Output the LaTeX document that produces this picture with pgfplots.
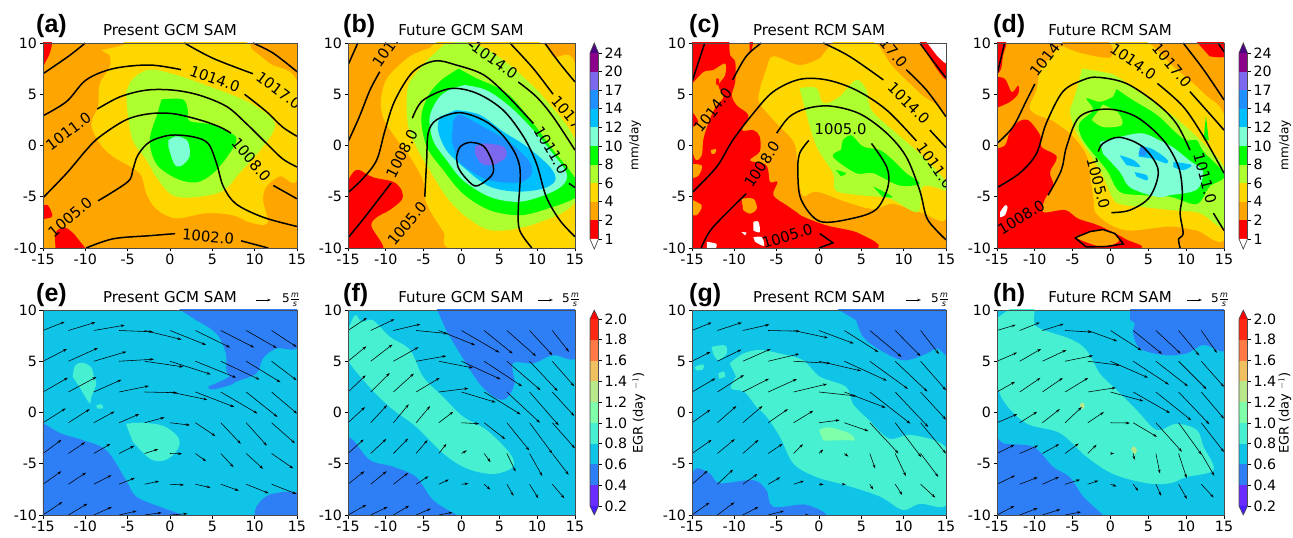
\documentclass[border=0pt]{standalone}
\usepackage{fontspec}
\setmainfont{DejaVu Sans}
\newfontfamily\panelfont{Liberation Sans}
\usepackage{pgfplots}
\usepackage{pgfplotstable}
\pgfplotsset{compat=1.18}
\usetikzlibrary{arrows.meta}
\definecolor{cRed}{HTML}{FF0000}
\definecolor{cOra}{HTML}{FFA500}
\definecolor{cGol}{HTML}{FFD700}
\definecolor{cGy}{HTML}{ADFF2F}
\definecolor{cLim}{HTML}{00FF00}
\definecolor{cAq}{HTML}{7FFFD4}
\definecolor{cSky}{HTML}{00BFFF}
\definecolor{cDod}{HTML}{1E90FF}
\definecolor{cSla}{HTML}{7B68EE}
\definecolor{cMag}{HTML}{8B008B}
\definecolor{cInd}{HTML}{4B0082}
\definecolor{e1}{HTML}{6A2CFF}
\definecolor{e2}{HTML}{2E7EF5}
\definecolor{e3}{HTML}{10C4E8}
\definecolor{e4}{HTML}{46F0D0}
\definecolor{e5}{HTML}{80FFAA}
\definecolor{e6}{HTML}{B8E88A}
\definecolor{e7}{HTML}{F0C060}
\definecolor{e8}{HTML}{FF7A45}
\definecolor{e9}{HTML}{FF2A14}
\newcommand\tk{\fontsize{14.2}{16}\selectfont}
\newcommand\lb{\fontsize{14.8}{16}\selectfont}
\newcommand\R[2]{\addplot[fill=#1,draw=none,smooth,tension=.55] coordinates {#2} -- cycle;}
\newcommand\C[1]{\addplot[black,line width=1.5pt,smooth,tension=.55] coordinates {#1};}
\newcommand\Lab[4]{\begin{scope}\clip (axis cs:-15,-10) rectangle (axis cs:15,10);\node[rotate=#4,font=\lb,inner sep=0pt] at (axis cs:#1,#2) {#3};\end{scope}}
\pgfplotsset{panel/.style={scale only axis,anchor=south west,height=205pt,
  xmin=-15,xmax=15,ymin=-10,ymax=10,axis on top,
  xtick={-15,-10,-5,0,5,10,15},xticklabels={-15,-10,-5,0,5,10,15},
  ytick={-10,-5,0,5,10},yticklabels={-10,-5,0,5,10},
  xtick pos=bottom,ytick pos=left,tick align=outside,major tick length=3.5pt,
  tick style={black,line width=.7pt},axis line style={line width=.7pt,black!70},
  tick label style={font=\tk},xticklabel style={yshift=1pt},yticklabel style={xshift=1pt}},
 qv/.style={quiver={u=\thisrow{u},v=\thisrow{v}},-{Stealth[length=4pt,width=2.6pt]},line width=.55pt,black},
 cbar/.style={scale only axis,anchor=south west,width=8.5pt,xmin=0,xmax=1,ymin=0,clip=false,
  axis x line=none,axis y line*=right,tick align=outside,major tick length=3.5pt,
  tick style={black,line width=.7pt},axis line style={draw=none},
  tick label style={font=\tk},yticklabel style={xshift=-1pt},axis on top}}
\newcommand\B[2]{\addplot[fill=#2,draw=none] coordinates {(0,#1) (1,#1) (1,#1+1) (0,#1+1)} -- cycle;}
\pgfplotstableread{
x y u v
-15 8 2.56 .85
-12 8 3.2 .8
-9 8 3.66 .52
-6 8 4.0 -.13
-3 8 4.37 -.88
0 8 4.25 -1.4
3 8 4.1 -1.66
6 8 3.94 -1.66
9 8 3.6 -1.7
12 8 2.95 -1.6
-15 5 2.83 1.2
-12 5 3.5 1.3
-9 5 3.86 .94
-6 5 4.1 .2
-3 5 4.57 -.55
0 5 4.8 -1.27
3 5 4.8 -1.6
6 5 4.57 -1.79
9 5 4.05 -2.05
12 5 2.95 -1.85
-15 2 2.95 1.4
-12 2 3.3 1.46
-9 2 3.27 1.2
-6 2 3.5 .59
-3 2 3.86 -.07
0 2 4.4 -.75
3 2 4.6 -1.46
6 2 4.33 -2.1
9 2 3.7 -2.44
12 2 3.0 -2.1
-15 -1 2.68 1.4
-12 -1 2.52 1.33
-9 -1 2.44 1.1
-6 -1 2.36 .85
-3 -1 2.36 .52
0 -1 2.36 -.23
3 -1 2.36 -1.3
6 -1 2.36 -2.05
9 -1 2.44 -2.24
12 -1 2.75 -2.0
-15 -4 2.17 1.33
-12 -4 1.97 1.1
-9 -4 1.97 .94
-6 -4 1.77 .75
-3 -4 1.6 .42
0 -4 1.42 -.03
3 -4 1.26 -.75
6 -4 1.5 -1.33
9 -4 2.0 -1.5
12 -4 2.56 -1.46
-15 -7 2.17 1.27
-12 -7 2.09 1.14
-9 -7 2.09 .88
-6 -7 1.85 .62
-3 -7 1.7 .3
0 -7 1.65 -.07
3 -7 1.8 -.33
6 -7 2.13 -.62
9 -7 2.65 -.88
12 -7 2.95 -.95
-15 -10 2.28 1.27
-12 -10 2.24 1.1
-9 -10 2.13 .78
-6 -10 2.05 .39
-3 -10 2.0 .23
0 -10 2.05 .13
}\qe
\pgfplotstableread{
x y u v
-15 8 2.5 1.24
-12 8 3.13 1.1
-9 8 3.57 .62
-6 8 4.2 -.3
-3 8 4.8 -1.43
0 8 5 -2.15
3 8 3.75 -2.25
6 8 3.84 -2.5
9 8 3 -2.4
12 8 2.2 -2.08
-15 5 2.43 1.46
-12 5 2.87 1.63
-9 5 3.3 1.37
-6 5 4.0 .52
-3 5 4.5 -.65
0 5 5.16 -1.76
3 5 5 -2.44
6 5 4.45 -2.83
9 5 3.7 -2.9
12 5 2.9 -2.44
-15 2 2.34 1.63
-12 2 2.5 1.85
-9 2 2.7 1.8
-6 2 3.1 1.37
-3 2 3.9 .36
0 2 4.5 -1
3 2 4.8 -2.18
6 2 4.37 -3.0
9 2 3.84 -3.25
12 2 2.9 -2.34
-15 -1 2.25 1.53
-12 -1 2.16 1.72
-9 -1 2.03 1.8
-6 -1 1.85 1.63
-3 -1 1.9 1.07
0 -1 2.34 -.1
3 -1 2.78 -1.6
6 -1 2.96 -2.7
9 -1 3.0 -3.0
12 -1 3.0 -2.5
-15 -4 2.07 1.37
-12 -4 2.07 1.43
-9 -4 1.94 1.46
-6 -4 1.5 1.3
-3 -4 1 .94
0 -4 .7 .3
3 -4 .84 -.85
6 -4 1.15 -1.76
9 -4 1.68 -2.2
12 -4 2.16 -2.08
-15 -7 2.16 1.27
-12 -7 2.1 1.27
-9 -7 1.94 1.1
-6 -7 1.63 .78
-3 -7 1.32 .46
0 -7 .93 .07
3 -7 .8 -.52
6 -7 .88 -1.14
9 -7 1.15 -1.37
12 -7 1.6 -1.37
-15 -10 2.43 1.0
-12 -10 2.25 .8
-9 -10 2.07 .9
-6 -10 1.94 .62
-3 -10 1.8 .26
}\qf
\pgfplotstableread{
x y u v
-15 8 2.32 .78
-12 8 2.9 .78
-9 8 3.15 .58
-6 8 3.74 -.07
-3 8 4.05 -.72
0 8 4.1 -1.27
3 8 4 -2.1
6 8 3.74 -2.57
9 8 2.99 -2.5
12 8 2.17 -2.3
-15 5 2.17 .91
-12 5 2.83 1.14
-9 5 3.3 1.2
-6 5 3.66 .72
-3 5 4.37 -.2
0 5 4.96 -.94
3 5 5 -1.89
6 5 4.5 -2.7
9 5 3.8 -2.96
12 5 3 -2.83
-15 2 2.76 1.33
-12 2 3.13 1.66
-9 2 3.1 1.3
-6 2 3.4 1.27
-3 2 3.94 .78
0 2 4.4 -.39
3 2 4.87 -1.53
6 2 4.8 -3.09
9 2 3.9 -3.41
12 2 3 -2.7
-15 -1 2.17 1.27
-12 -1 2.24 1.63
-9 -1 2.32 1.63
-6 -1 2.32 1.33
-3 -1 2.32 1.17
0 -1 2.44 .26
3 -1 2.83 -.81
6 -1 3.39 -3.0
9 -1 3.07 -3.35
12 -1 3 -3.0
-15 -4 2.32 1.33
-12 -4 2.05 1.4
-9 -4 1.85 1.33
-6 -4 1.7 .94
-3 -4 1.1 .91
0 -4 .5 .39
3 -4 .47 -.3
6 -4 .63 -1.46
9 -4 1.26 -2.2
12 -4 2.09 -2.28
-15 -7 1.85 1.33
-12 -7 1.85 1.43
-9 -7 1.73 1.0
-6 -7 1.42 .68
-3 -7 1.22 .33
0 -7 .55 -.03
3 -7 .16 0
6 -7 .4 -.52
9 -7 .83 -1.04
12 -7 1.73 -1.3
-15 -10 2.05 1.2
-12 -10 2.0 1.24
-9 -10 1.85 .78
-6 -10 1.85 .39
-3 -10 1.8 0
}\qg
\pgfplotstableread{
x y u v
-15 8 2.47 .55
-12 8 2.65 .78
-9 8 2.82 .65
-6 8 3.53 -.16
-3 8 3.88 -1.04
0 8 4.1 -1.95
3 8 3.8 -2.28
6 8 3.26 -2.24
9 8 2.73 -2.44
12 8 2.07 -2.18
-15 5 2.65 .85
-12 5 2.82 1.2
-9 5 3.17 1.1
-6 5 3.7 .55
-3 5 4.23 -.39
0 5 4.94 -1.6
3 5 4.72 -2.28
6 5 4.23 -2.44
9 5 3.7 -2.73
12 5 3.0 -2.5
-15 2 2.38 1.0
-12 2 2.73 1.37
-9 2 2.69 1.37
-6 2 3.04 1.37
-3 2 3.7 .42
0 2 4.32 -.88
3 2 4.85 -2.05
6 2 4.67 -2.76
9 2 4.06 -3.15
12 2 3 -2.6
-15 -1 2.69 .85
-12 -1 2.3 1.07
-9 -1 2.3 1.33
-6 -1 2.2 1.53
-3 -1 2.12 1.04
0 -1 2.56 -.03
3 -1 3.13 -1.37
6 -1 3.44 -2.83
9 -1 3.04 -3.12
12 -1 3 -2.86
-15 -4 2.3 .85
-12 -4 2.43 .78
-9 -4 2.2 .91
-6 -4 1.8 .98
-3 -4 1.15 .85
0 -4 .49 0
3 -4 .18 -.62
6 -4 .53 -1.95
9 -4 1.06 -2.4
12 -4 1.72 -2.18
-15 -7 2.38 .85
-12 -7 2.38 .68
-9 -7 2.2 .72
-6 -7 2 .46
-3 -7 1.41 .36
0 -7 .8 -.2
3 -7 .66 -.65
6 -7 .7 -1.14
9 -7 1.1 -1.43
12 -7 1.63 -1.3
-15 -10 2.3 .88
-12 -10 2.38 .68
-9 -10 2.38 .55
-6 -10 2.12 .3
}\qh
\newcommand\precipcb[2]{%
\begin{axis}[cbar,at={(#1pt,299pt)},height=186pt,ymax=10,ytick={0,1,2,3,4,5,6,7,8,9,10},
  yticklabels={1,2,4,6,8,10,12,14,17,20,24}]
\B{0}{cRed}\B{1}{cOra}\B{2}{cGol}\B{3}{cGy}\B{4}{cLim}\B{5}{cAq}\B{6}{cSky}\B{7}{cDod}\B{8}{cSla}\B{9}{cMag}
\addplot[fill=cInd,draw=none] coordinates {(0,10) (1,10) (.5,10.54)} -- cycle;
\addplot[fill=white,draw=none] coordinates {(0,0) (1,0) (.5,-.54)} -- cycle;
\addplot[black!70,line width=.7pt] coordinates {(0,0) (.5,-.54) (1,0) (1,10) (.5,10.54) (0,10)} -- cycle;
\end{axis}}
\newcommand\egrcb[1]{%
\begin{axis}[cbar,at={(#1pt,32pt)},height=187pt,ymax=9,ytick={0,1,2,3,4,5,6,7,8,9},
  yticklabels={0.2,0.4,0.6,0.8,1.0,1.2,1.4,1.6,1.8,2.0}]
\B{0}{e1}\B{1}{e2}\B{2}{e3}\B{3}{e4}\B{4}{e5}\B{5}{e6}\B{6}{e7}\B{7}{e8}\B{8}{e9}
\addplot[fill=cRed,draw=none] coordinates {(0,9) (1,9) (.5,9.43)} -- cycle;
\addplot[fill=e1!70!blue,draw=none] coordinates {(0,0) (1,0) (.5,-.43)} -- cycle;
\addplot[black!70,line width=.7pt] coordinates {(0,0) (.5,-.43) (1,0) (1,9) (.5,9.43) (0,9)} -- cycle;
\end{axis}}
\begin{document}
\begin{tikzpicture}[x=1pt,y=1pt]
\path[use as bounding box] (0,0) rectangle (1293,538);
% (a)
\begin{axis}[panel,at={(43pt,290pt)},width=254pt,axis background/.style={fill=cOra}]
\R{cRed}{(-15.3,10.2) (-14,10.2) (-14.2,9) (-14.8,8) (-15.3,7)}
\R{cRed}{(-15.3,-6) (-14.5,-5.8) (-14,-6.5) (-14,-7) (-15.3,-7.2)}
\R{cRed}{(-13.5,-10.2) (-13.5,-8.5) (-12.5,-8) (-11.5,-8.5) (-10.5,-9.5) (-9.8,-10.2)}
\R{cGol}{(-8.1,9.3) (-5.5,9.8) (-4.4,10.2) (8,10.2) (9.8,9.3) (11.8,8) (15.1,6) (15.1,-3.1) (13,-3) (11.4,-4) (11,-5.3) (11.5,-7.6) (9.4,-7.5) (7.4,-6.8) (4.3,-6.6) (.7,-7.1) (-1.6,-6.2) (-2.8,-4.7) (-3.6,-2.7) (-6.7,-1.1) (-8.3,.2) (-9.3,2.1) (-8.5,3.8) (-8.3,6) (-7.1,7.7) (-7.1,8.8)}
\R{cGy}{(-5.2,5.1) (-4.4,6.5) (-2.4,7.4) (.7,6.9) (3.5,6.1) (7.4,4.9) (10.2,3.8) (12.4,2.1) (11,-.1) (8.2,-2.7) (6.3,-4.4) (3.5,-5) (.4,-4.9) (-1.6,-3.1) (-2.8,-1.4) (-4.4,.5) (-5,3.1)}
\R{cLim}{(-1,4.5) (1.5,4.5) (2.1,3.5) (2.3,2.4) (5.1,2) (7.8,.8) (7,-.8) (5.1,-2.7) (3.1,-3.6) (.7,-3.2) (-1.6,-1.8) (-2.4,.5) (-1.6,2.8)}
\R{cAq}{(-.2,.5) (.8,.9) (2.1,.4) (2.3,-1.1) (1.3,-2) (.5,-1.8) (-.2,-.1)}
\C{(-15,7) (-12,8.7) (-10,10)}
\C{(1.7,10) (5.1,8.5) (9.8,7)}
\C{(9.8,10) (12.2,9) (15,7.2)}
\C{(-15,2.9) (-12.2,4.3) (-9.9,6.4) (-6.7,7.5) (-2.4,7.85) (1.3,7.4)}
\C{(8.8,5) (11.4,3.3) (13.3,1.8) (15,.9)}
\C{(-8.6,3.55) (-5.9,4.75) (-2.8,5.4) (.4,5.4) (3.5,4.9) (6.7,3.8) (9,2.15) (11.4,.2) (13.3,-1.3) (15,-2.1)}
\C{(-15,-5.1) (-12.2,-2.7) (-9.9,-.45) (-8.3,.85) (-5.2,2.5) (-2.4,3.1) (.4,3.1) (3.5,2.5) (5.9,1.8) (7.2,1.2)}
\C{(12.2,-3.9) (15,-5.2)}
\C{(-8.5,-5.4) (-5,-3.55) (-4.4,-2.4) (-3.8,-.95) (-2.4,.35) (0,1) (2.7,.85) (4.5,.2) (5.5,-1.75) (6.3,-4) (7.8,-5.7) (11,-7) (15,-7.9)}
\C{(-9.9,-10) (-6.7,-9.1) (-2.4,-8.8) (.6,-8.6)}
\C{(8.4,-9.3) (11.6,-10)}
\Lab{12.85}{5.37}{1017.0}{-37}
\Lab{5.3}{6.5}{1014.0}{-20}
\Lab{-12}{1.4}{1011.0}{37}
\Lab{9.6}{-1.4}{1008.0}{-50}
\Lab{-11.8}{-7}{1005.0}{40}
\Lab{4.5}{-8.9}{1002.0}{-5}
\end{axis}
% (b)
\begin{axis}[panel,at={(348pt,290pt)},width=227pt,axis background/.style={fill=cOra}]
\R{cRed}{(-15.2,-3.7) (-14.3,-2.6) (-13.5,-2.4) (-11.7,-3.1) (-9,-3.55) (-7.9,-4.4) (-7.9,-5.3) (-9.5,-6.3) (-11.2,-7) (-11.9,-7.9) (-10.4,-10.2) (-15.3,-10.3)}
\R{cGol}{(-3.1,10.2) (9.5,10.2) (12.1,8.7) (15.2,7.2) (15.2,-10.2) (-.7,-10.2) (-2.4,-8.4) (-4.6,-5.7) (-5.1,-3.4) (-6.8,-1.1) (-8.8,.85) (-10.4,2.8) (-10.6,4.75) (-9.7,6.7) (-6.8,8.7) (-4.2,9.5)}
\R{cGy}{(-2.4,9.8) (-1.1,10.05) (1.3,10) (4.2,9) (7.7,7) (11.2,4.4) (15.2,.2) (15.2,-5.3) (9.9,-7.6) (4.2,-8.3) (.7,-7) (-2,-5) (-4.2,-2.4) (-6,-.1) (-7.1,2.15) (-7.1,5.7) (-5.5,7.5) (-4,8.7)}
\R{cLim}{(-.4,7.5) (2,6.55) (6,5.1) (9.5,2.15) (12.1,-.45) (15.2,-3.4) (15.2,-5) (11.2,-6.2) (7.7,-6.8) (3.7,-6.3) (.2,-4.7) (-2.4,-2.4) (-4.6,-.1) (-5.3,2.8) (-4.2,5.1) (-2.4,6.55)}
\R{cAq}{(.4,5.9) (3.3,5.4) (6.4,3.8) (9.5,1.5) (11.7,-.45) (13.9,-2.7) (13.2,-4) (10.4,-5) (7.3,-5.5) (3.7,-5) (.2,-3.4) (-2,-1.4) (-3.75,.5) (-4.2,2.8) (-2.9,4.75) (-1.1,5.6)}
\R{cSky}{(-.7,3.45) (2.4,3) (5.5,1.35) (8.6,-.1) (11.7,-2.1) (12.4,-3.4) (10.8,-4.2) (7.3,-4.5) (3.7,-4) (.7,-2.4) (-2,-.45) (-3.1,1.5) (-2.9,2.8)}
\R{cDod}{(-1.1,2.3) (-.2,3) (2.9,1.8) (6,.5) (8.8,-1.4) (9.3,-2.7) (7.7,-3.6) (3.7,-3.4) (1.1,-2.4) (-.4,-1.4) (-1.3,.5)}
\R{cSla}{(1.8,-.1) (2.9,.2) (5.5,-.1) (5.9,-1.1) (4.2,-1.9) (2.6,-1.75) (1.8,-.8)}
\C{(-15,7.85) (-13.7,10)}
\C{(-15,.35) (-13.5,2.8) (-12.1,5.4) (-10.8,7.2)}
\C{(-15,-4.6) (-13,-3.2) (-11.2,-1.4) (-10.1,1.5) (-8.8,4.4) (-6.4,7.2) (-3.5,8.25) (-.7,7.85) (2.9,6.9) (6,4.9) (9.5,2.15)}
\C{(14.2,-3.7) (15,-4.1)}
\C{(-15,-9) (-13,-7.2) (-9.3,-3.65)}
\C{(-6.5,2.65) (-5.1,4.4) (-1.5,5.55) (2,5.1) (5.5,3.45) (8.2,.85) (9.9,-1.75) (11.2,-5) (13,-7.3) (15,-8.9)}
\C{(-4.85,-5) (-4.6,-1.4) (-4.4,1.2) (-3.3,2.5) (-.2,3.2) (3.3,2.3) (6,.5) (7.7,-2.1) (7.5,-6.3) (7.7,-8.3) (9.3,-10)}
\C{(7.5,6.2) (9.9,4.75) (12.1,2.8) (15,-.45)}
\C{(6.4,10) (9.5,7.5) (12.1,5)}
\C{(11,10) (13,8) (15,6.2)}
\C{(-.65,-1.1) (-.2,-.15) (1.1,.3) (2.9,-.05) (4,-1.45) (4.2,-2.6) (3.3,-3.4) (1.8,-3.95) (.4,-3.05) (-.45,-2.1) (-.65,-1.1)}
\C{(.9,10) (1.5,9.6)}
\Lab{-9.35}{9.87}{1011.0}{55}
\Lab{4.4}{8.3}{1014.0}{-35}
\Lab{14.5}{2.7}{1017.0}{-50}
\Lab{11.9}{-.45}{1011.0}{-60}
\Lab{-7.9}{-.8}{1008.0}{63}
\Lab{-7.2}{-7.6}{1005.0}{50}
\end{axis}
\precipcb{590}{}
% (c)
\begin{axis}[panel,at={(692pt,290pt)},width=254pt,axis background/.style={fill=cOra}]
\R{cRed}{(-10.6,10.2) (-10.5,8.8) (-9.9,8.15) (-9.9,6.2) (-10.3,4.9) (-9.7,3.9) (-8.35,2.95) (-9.1,1.5) (-7.75,1.5) (-7,.85) (-7,-.6) (-8.15,-1.45) (-6.2,-1.95) (-5.8,-3.55) (-4.9,-3.55) (-5.4,-4.85) (-3.8,-5.85) (-2.65,-6.5) (-1.85,-6.95) (.9,-7.8) (4.8,-8.6) (5.8,-10.2) (-15.3,-10.2) (-15.3,10.2)}
\R{cRed}{(11.9,10.1) (15.2,10.1) (15.2,6.4) (13.5,8)}
\R{white}{(12.7,10.1) (15.2,10.1) (15.2,8) (13.9,8.8)}
\R{cOra}{(-15.3,5.7) (-13.65,7.15) (-12.5,7.35) (-11.1,8) (-11.1,6.85) (-11.9,5.85) (-11.3,4.75) (-12.1,3.9) (-12.9,2.6) (-13.65,.65) (-13.85,-.95) (-14.65,-1.3) (-15.3,1.3) (-14.25,2.3) (-15.3,3.6)}
\R{cOra}{(-15.3,-1.8) (-13.85,-1.95) (-14.25,-2.95) (-15.3,-3.25)}
\R{cOra}{(-15.3,-5.2) (-13.85,-5.85) (-14.45,-6.8) (-15.3,-6.65)}
\R{cOra}{(-9.15,-5.2) (-7.75,-5.2) (-7.35,-6.15) (-8.15,-6.65) (-8.95,-6.3)}
\R{cOra}{(-12.8,-.45) (-12.15,-.35) (-12.3,-.8) (-12.7,-.8)}
\R{cRed}{(-8.2,10.1) (-7.8,10.1) (-8,9.2) (-8.2,9.2)}
\R{cRed}{(-12.15,6.5) (-11.8,6.5) (-11.9,5.85) (-12.15,6)}
\R{white}{(-7.75,-7.45) (-7.15,-7.45) (-7,-8.45) (-7.75,-8.3)}
\R{white}{(-7.75,-8.95) (-6.75,-8.95) (-6.5,-9.8) (-7.55,-9.4)}
\R{white}{(-9.15,-8.45) (-8.55,-8.5) (-8.75,-8.75)}
\R{white}{(-13.25,-9.4) (-12.1,-9.6) (-12.3,-10.1) (-13.25,-10.1)}
\R{cGol}{(1.65,10.1) (6.4,10.1) (8.7,7.7) (11.9,5.1) (15.2,2.3) (15.2,-6.8) (12.3,-6.6) (8.7,-5.7) (6.4,-6.2) (3.2,-5.5) (-.3,-4.5) (-1.9,-4.9) (-2.5,-2.7) (-2.9,.2) (-5,2.15) (-7,4.1) (-7,5.4) (-6.2,7.5) (-5.4,8.7) (-2.3,7.85) (.1,8.5)}
\R{cGy}{(-2.3,5.6) (-.3,5.6) (.5,4.1) (2.4,4.75) (4.4,6.4) (5.6,5.4) (6.2,3.45) (8.7,1.5) (12.3,-1.1) (15.2,-3.7) (15.2,-4.4) (12.3,-4) (11.7,-6.5) (8.7,-5.3) (7.2,-5) (4.8,-4.85) (2,-4.4) (1.65,-2.7) (-.3,-.1) (-1.5,3.1)}
\R{cLim}{(2.8,.5) (3.8,1) (5.2,-.1) (7.2,-.45) (8.7,-1.4) (10.3,-2.7) (11.9,-3.7) (9.5,-3.9) (6.4,-2.7) (4.4,-2.7) (1.65,-1.1) (2.6,-.45)}
\R{cLim}{(2,-2.4) (3.2,-2.7) (2.6,-3)}
\R{cLim}{(6.4,-4) (8.7,-5) (7.5,-5)}
\C{(-15,6.2) (-13.5,10)}
\C{(-10.2,6.4) (-8.6,8.7) (-6.8,10)}
\C{(.5,10) (3.6,8.7) (7.6,6.4)}
\C{(10.3,7.4) (12.7,5.4) (15,2.8)}
\C{(11.9,10) (13.5,8.2) (15,6.6)}
\C{(-15,-4.6) (-12.1,-2.1) (-10.2,.5) (-7.8,3.1) (-5.4,5.25) (-2.3,6.45) (.9,6.4) (4.4,5.4) (8,3.45) (11.5,.45)}
\C{(13.1,1.5) (15,-.2)}
\C{(-5,1.2) (-3.5,2.8) (-1.5,3.6) (1.3,3.85) (4.8,3.1) (8,1.2) (10.3,-1.1) (11.9,-4.4) (12.7,-7) (13.9,-8.3) (15,-9.2)}
\C{(-8.6,-4.7) (-12.5,-7.95) (-13.7,-9.6) (-13.9,-10)}
\C{(-1.2,.5) (-2.3,-.8) (-2.5,-2.7) (-2.1,-5.3) (.1,-7.4) (4,-7.1) (6.8,-6.2) (8.15,-4) (8,-2.1) (6.2,.2)}
\addplot[black,line width=1.5pt] coordinates {(.1,-8.6) (1.65,-9.5) (0,-10)};
\Lab{-12.5}{3.45}{1014.0}{52}
\Lab{8.1}{9.75}{1017.0}{-50}
\Lab{10.6}{4.1}{1014.0}{-45}
\Lab{13.7}{-1.95}{1011.0}{-55}
\Lab{-6.7}{-1.85}{1008.0}{56}
\Lab{2.55}{1.55}{1005.0}{0}
\Lab{-3.75}{-8.85}{1005.0}{17}
\end{axis}
% (d)
\begin{axis}[panel,at={(997pt,290pt)},width=227pt,axis background/.style={fill=cOra}]
\R{cRed}{(-15.3,-.3) (-13.95,0) (-13.3,1.3) (-12.2,2.3) (-10.85,2.45) (-9.3,1) (-9.1,-.15) (-7.1,-1.1) (-8,-2.6) (-7.55,-3.9) (-8.65,-5.2) (-8.9,-6.5) (-6,-6.3) (-4.25,-7.15) (-1.6,-7.8) (1.9,-9.1) (3.2,-10.1) (-15.3,-10.2)}
\R{cRed}{(-15.3,6.7) (-13.95,6.5) (-13.05,5.2) (-12.2,5.85) (-12.2,5.05) (-13.3,4.25) (-15.3,3.6)}
\R{cOra}{(-4.7,-8.9) (-1,-8.2) (1.2,-9.2) (-1,-9.9) (-4,-9.2)}
\R{cRed}{(-15.3,10.1) (-13.8,10.1) (-14.2,8.8) (-14.5,7.4) (-15.3,6.8)}
\R{cRed}{(11.4,10.1) (15.2,10.1) (15.2,8.7) (13.1,8.7)}
\R{white}{(-14.6,-6.5) (-13.95,-5.85) (-13.6,-6) (-13.95,-6.8) (-14.6,-7)}
\R{cGol}{(-6.7,9.65) (-3.6,9.8) (1.2,10.1) (4.8,10.1) (8.3,7.7) (12.3,5.1) (15.3,2.15) (15.3,-8.8) (11.4,-8.3) (7.9,-7.9) (2.6,-8.3) (-.1,-7.7) (-2,-6.5) (-2.25,-5.2) (-2.7,-2.9) (-3.15,-.95) (-5.1,1) (-7.75,2.45) (-9.8,3) (-10.7,3.8) (-9.8,5.4) (-9.4,7.4)}
\R{cOra}{(-6.5,10.2) (-.5,10.2) (0,8.6) (-3.8,9) (-6,9.6)}
\R{cGy}{(-3.8,7.5) (.35,6.9) (3.4,5.4) (7.9,3.1) (12.3,.2) (15.3,-2.7) (15.3,-7.95) (11.8,-6.6) (7.9,-6.3) (4.3,-6) (1.2,-5.7) (.2,-5) (-1.4,-2.4) (-4.45,1.2) (-5.35,3.25) (-4.9,4.4) (-4.1,6.4)}
\R{cLim}{(.8,5.5) (3,4.4) (6.1,3) (8.7,1.2) (10,.5) (11.4,.5) (12.3,-.6) (15.1,-2.9) (13.1,-4) (11.4,-5.7) (7.9,-5) (4.3,-4.85) (1.2,-4.5) (-.5,-2.4) (-3.6,.5) (-4.1,2.15) (-2.3,3.45) (-3.2,4.6) (-1.4,4.25) (.35,4.75)}
\R{cGy}{(-1,4) (1,3.2) (1.5,2) (-1,1.8) (-2.5,2.5)}
\addplot[fill=cLim,draw=none] coordinates {(12.3,.5) (12.6,2.9) (13,.5)} -- cycle;
\R{cAq}{(-1.4,.37) (-.5,.5) (3.9,1.2) (6.5,.5) (8.3,-.2) (10.5,-1.5) (12.2,-2.5) (11.4,-4.3) (7.9,-4.85) (6.1,-5) (2.6,-4.1) (1.25,-2.6) (-1,-.8)}
\R{cSky}{(3.9,-.1) (5.4,-.3) (7.4,-1.3) (7.4,-1.75) (5.6,-1.3) (3.7,-1.1)}
\R{cSky}{(1.2,-.95) (3,-1.4) (3.9,-2.1) (2.1,-1.9)}
\R{cSky}{(3.2,-2.6) (4.8,-2.9) (4.8,-3.4) (3.4,-3)}
\R{cSky}{(8.3,-1.6) (10.7,-1.9) (9.6,-2.4) (8.3,-2.1)}
\R{cDod}{(4.1,0) (4.8,-.3) (4.5,-1.05) (3.7,-.8)}
\C{(-15,6.9) (-14,10)}
\C{(-15,.2) (-12.9,1.8) (-11.1,4.4) (-10,6)}
\C{(-15,-4.1) (-12,-2.7) (-9.8,-.8) (-8.5,2.15) (-6.3,5.25) (-3.6,6.4) (-1.6,6.65) (2.1,6.05) (6.1,4.1) (8.7,2.15) (10.5,-.45)}
\C{(13.6,-6.6) (15,-8.3)}
\C{(6.2,6.05) (9.6,3.8) (12.3,.85) (15,-2.7)}
\C{(10.5,5.25) (13.1,3.1) (15,1.5)}
\C{(9.6,10) (12.3,7.4) (15,4.45)}
\C{(14.2,10) (15,9.15)}
\C{(-8.25,-4.85) (-6.5,-2.4) (-5.8,-.1) (-4.1,2.8) (-.5,3.55) (3.4,2.8) (7,.5) (9,-2.1) (9.5,-4.7) (9.2,-6.6) (9.6,-8.6) (9,-9.1) (9.2,-10)}
\C{(-1.6,-.6) (-1,.2) (1.2,.8) (4.3,-.15) (6.3,-2.4) (5.2,-5) (2.6,-6.3) (.1,-6.55)}
\addplot[black,line width=1.5pt] coordinates {(-4.7,-9) (-2.7,-8.4) (-1,-8.2) (.6,-8.6) (1.7,-9.6) (-.5,-9.85) (-3.2,-9.9) (-4.7,-9)};
\Lab{-8.05}{8.95}{1014.0}{52}
\Lab{3}{8.2}{1014.0}{-35}
\Lab{8.1}{7.85}{1017.0}{-50}
\Lab{12.5}{-3.2}{1011.0}{-75}
\Lab{-11.8}{-7}{1008.0}{32}
\Lab{-1.6}{-3.7}{1005.0}{-75}
\end{axis}
\precipcb{1239}{}
% (e)
\begin{axis}[panel,at={(43pt,23pt)},width=254pt,axis background/.style={fill=e3}]
\R{e2}{(.95,10.15) (15.1,10.15) (15.1,6.4) (12.6,6.25) (11,5.3) (10.2,3.8) (7.8,3) (7.2,2.7) (5.1,2.25) (4.5,2.5) (5.3,2.8) (7,3.5) (6.65,4.1) (6.6,5.75) (5.5,7.7) (3.1,9)}
\R{e2}{(-15.2,-.9) (-13,-2) (-10.3,-2.7) (-7.5,-3.7) (-5.2,-6.6) (-4,-8.2) (-1.2,-9.2) (1.5,-10) (1.7,-10.3) (-15.2,-10.3)}
\R{e2}{(10,-10.3) (10.2,-9.2) (11.8,-8) (15.1,-7.9) (15.1,-10.3)}
\R{e4}{(-11.5,3.5) (-11.2,4.6) (-10.3,4.85) (-9.3,4.4) (-9,3.5) (-8.7,2.8) (-9.3,1.5) (-9.5,.9) (-10.7,2.5)}
\R{e4}{(-8.7,.7) (-8.1,.8) (-7.9,.4) (-8.6,.4)}
\R{e4}{(-5.2,-1.1) (-3.2,-1) (-.8,-1.3) (.75,-2.2) (1.15,-3) (.55,-4) (-.8,-4.7) (-2.4,-4.5) (-4.4,-2.85)}
\addplot[qv] table[x=x,y=y] {\qe};
\end{axis}
% (f)
\begin{axis}[panel,at={(348pt,23pt)},width=227pt,axis background/.style={fill=e3}]
\R{e2}{(-3.3,10.15) (15.2,10.15) (15.2,5.4) (12.1,5.6) (9.5,4.8) (6.8,4.8) (7,2.8) (5.95,1.4) (4.6,1.4) (2.4,2.8) (-.2,5.75) (-2,8)}
\R{e2}{(-15.2,-2.4) (-14.3,-2.7) (-12.1,-4.65) (-9,-5.3) (-6,-6.3) (-3.75,-8.55) (-.65,-10) (-.2,-10.3) (-15.2,-10.3)}
\R{e4}{(-14.3,9.3) (-13.9,9.5) (-13.2,8.85) (-11.7,9) (-9.5,7.4) (-6.8,6.1) (-5.1,3.5) (-2.4,1.5) (.2,-.4) (3.3,-1.7) (6.4,-4) (6.8,-5.3) (4.2,-6) (.65,-5.45) (-2.4,-4) (-6,-1.4) (-9.5,.55) (-12.6,2.85) (-15.2,5.4) (-15.2,7.7)}
\addplot[qv] table[x=x,y=y] {\qf};
\end{axis}
\egrcb{590}
% (g)
\begin{axis}[panel,at={(692pt,23pt)},width=254pt,axis background/.style={fill=e3}]
\R{e2}{(2.05,10.15) (15.2,10.15) (15.2,5.75) (14,6.25) (12.3,5.6) (9.9,5.1) (7.2,6.1) (5.2,7.4) (4.4,9)}
\R{e2}{(-15.3,-6.6) (-14.5,-5.45) (-12.9,-5.95) (-11.7,-6.9) (-7.8,-6.6) (-6.2,-7.6) (-5.4,-9.2) (-1.5,-9) (.1,-10.3) (-15.3,-10.3)}
\R{e4}{(-10.55,4.8) (-8.95,5.75) (-7,6.1) (-4.6,5.75) (-1.9,5.1) (.1,3.5) (3.2,2.5) (4,.85) (5.9,-.75) (8.3,-2.55) (11,-2.2) (15.2,-3.65) (15.2,-8.9) (11.9,-8.9) (9.9,-9.5) (7.2,-8.2) (3.2,-7.1) (-.3,-6.3) (-3,-5) (-4.6,-2.4) (-6.2,-.4) (-7.4,.55) (-8.8,2) (-10.4,2.35) (-9.8,3.5)}
\R{e4}{(-12.7,6.4) (-11.1,6.55) (-10.9,5.75) (-11.9,5.1) (-12.5,5.75)}
\R{e4}{(-14.7,4.45) (-13.7,4.7) (-13.7,4.2) (-14.5,4.1)}
\R{e4}{(-11.9,3.8) (-11.25,4) (-11.1,3.5) (-11.8,3.3)}
\R{e5}{(0,-1.7) (1.26,-1.45) (3.6,-2.05) (4.2,-2.7) (3.2,-2.7) (.5,-2.75)}
\addplot[qv] table[x=x,y=y] {\qg};
\end{axis}
% (h)
\begin{axis}[panel,at={(997pt,23pt)},width=227pt,axis background/.style={fill=e3}]
\R{e2}{(2.6,10.2) (15.2,10.15) (15.2,6.1) (12.3,6.6) (10,5.75) (7,5.6) (3.9,6.25) (3,7.7) (3.2,8.7) (2.6,9)}
\R{e2}{(-15.2,-2) (-14.2,-3) (-10.2,-3.35) (-7.6,-5.3) (-5.4,-6.3) (-3.6,-8.2) (-1,-10) (-.75,-10.3) (-15.2,-10.3)}
\R{e4}{(-15.3,9) (-12.9,10.2) (-10.2,10.2) (-9.8,8.4) (-5.4,7.2) (-3.2,6.1) (-1.4,3.8) (.8,2.2) (3.5,.2) (6.1,-1.7) (8.7,-1.1) (11.4,-1.7) (12.3,-3.35) (13.6,-5.6) (10,-6.3) (7.9,-6.9) (4.8,-6.9) (.35,-6) (-3.2,-4.3) (-6.7,-2) (-11.1,-1.07) (-14.2,1.2) (-15.2,3.8) (-15.2,7.4)}
\R{e6}{(-4.1,.7) (-3.7,1) (-3.4,.6) (-3.7,.3)}
\R{e6}{(2.7,-3.55) (3.1,-3.3) (3.5,-3.7) (3.2,-4.1)}
\addplot[qv] table[x=x,y=y] {\qh};
\end{axis}
\egrcb{1239}
% titles and annotations
\foreach \xc/\t in {170/Present GCM SAM,461/Future GCM SAM,819/Present RCM SAM,1110/Future RCM SAM}{
  \node[anchor=base,font=\fontsize{15}{17}\selectfont,inner sep=0pt] at (\xc,502.5) {\t};
  \node[anchor=base,font=\fontsize{15}{17}\selectfont,inner sep=0pt] at (\xc,235.3) {\t};}
\foreach \xc/\t in {36/(a),343/(b),689/(c),993/(d)}{
  \node[anchor=base west,inner sep=0pt,font=\panelfont\bfseries\fontsize{25}{28}\selectfont] at (\xc,505) {\t};}
\foreach \xc/\t in {36/(e),343/(f),689/(g),993/(h)}{
  \node[anchor=base west,inner sep=0pt,font=\panelfont\bfseries\fontsize{25}{28}\selectfont] at (\xc,236) {\t};}
\foreach \xa/\xb in {256/282,538/562,906/931,1187/1211}{
  \draw[-{Stealth[length=4pt,width=2.6pt]},line width=.55pt] (\xa,238) -- (\xa+15,238);
  \node[anchor=west,inner sep=0pt,font=\fontsize{12}{14}\selectfont] at (\xb,238) {5$\frac{\mathit{m}}{\mathit{s}}$};}
\foreach \xc in {635,1285}{
  \node[rotate=90,font=\fontsize{12.2}{14}\selectfont,inner sep=0pt] at (\xc,393) {mm/day};}
\foreach \xc in {639,1285}{
  \node[rotate=90,font=\fontsize{13}{15}\selectfont,inner sep=0pt] at (\xc,125) {EGR (day $^{-1}$)};}
\end{tikzpicture}
\end{document}
